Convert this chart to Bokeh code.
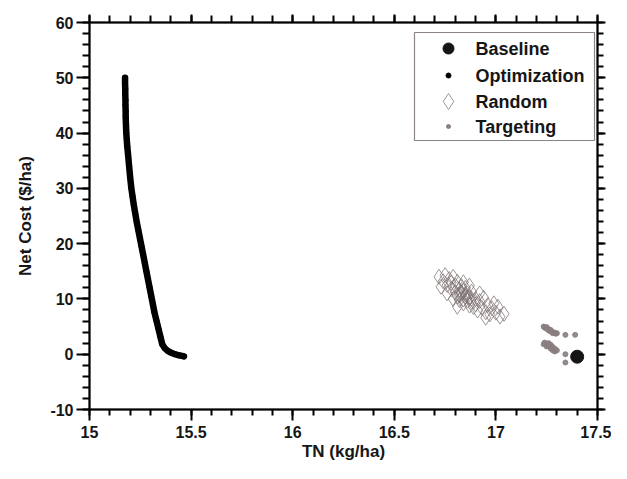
from bokeh.plotting import figure
from bokeh.models import LinearAxis, FixedTicker, Range1d
from bokeh.core.properties import value
from bokeh.embed import file_html
from bokeh.resources import INLINE

# ---------------- data ----------------
x_ticks = [15, 15.5, 16, 16.5, 17, 17.5]
x_tick_labels = ["15", "15.5", "16", "16.5", "17", "17.5"]
y_ticks = [-10, 0, 10, 20, 30, 40, 50, 60]
y_tick_labels = ["-10", "0", "10", "20", "30", "40", "50", "60"]

legend_labels = ["Baseline", "Optimization", "Random", "Targeting"]

baseline_tn = [17.40]
baseline_cost = [-0.45]

optimization_tn = [15.175, 15.175, 15.176, 15.176, 15.177, 15.177, 15.178, 15.178,
                   15.179, 15.180, 15.181, 15.183, 15.186, 15.190, 15.195, 15.200,
                   15.206, 15.212, 15.218, 15.225, 15.232, 15.240, 15.248, 15.256,
                   15.264, 15.272, 15.280, 15.288, 15.296, 15.304, 15.312, 15.320,
                   15.330, 15.340, 15.350, 15.358, 15.370, 15.385, 15.400, 15.420,
                   15.440, 15.455, 15.465]
optimization_cost = [50.0, 49.0, 48.0, 47.0, 46.0, 45.0, 44.0, 43.0,
                     42.0, 41.0, 40.0, 39.0, 37.5, 36.0, 34.0, 32.0,
                     30.0, 28.5, 27.0, 25.5, 24.0, 22.5, 21.0, 19.5,
                     18.0, 16.5, 15.0, 13.5, 12.0, 10.5, 9.0, 7.5,
                     6.0, 4.5, 3.0, 1.8, 1.1, 0.6, 0.3, 0.0,
                     -0.2, -0.3, -0.4]

random_tn = [16.72, 16.74, 16.75, 16.76, 16.77, 16.78, 16.78, 16.79, 16.80, 16.80,
             16.81, 16.81, 16.82, 16.82, 16.83, 16.83, 16.84, 16.84, 16.85, 16.85,
             16.86, 16.86, 16.87, 16.87, 16.88, 16.88, 16.89, 16.90, 16.90, 16.91,
             16.92, 16.93, 16.94, 16.95, 16.96, 16.97, 16.98, 17.00, 17.02, 17.04,
             16.76, 16.79, 16.73, 16.81, 16.84, 16.87, 16.92, 16.99, 16.95, 17.01,
             16.83, 16.85, 16.86, 16.88, 16.82, 16.84]
random_cost = [14.0, 13.2, 14.3, 12.5, 13.6, 11.8, 12.9, 14.0, 11.2, 12.4,
               13.1, 10.5, 11.7, 9.8, 12.3, 10.9, 11.5, 9.2, 10.4, 12.0,
               9.7, 11.0, 8.8, 10.2, 9.5, 11.3, 8.5, 10.0, 9.0, 7.9,
               9.6, 8.4, 10.2, 7.6, 8.9, 7.2, 8.3, 7.5, 6.8, 7.3,
               11.0, 10.0, 12.2, 8.6, 13.0, 12.4, 11.0, 9.2, 6.6, 8.6,
               11.2, 10.8, 10.4, 10.0, 10.6, 9.9]

targeting_tn = [17.235, 17.24, 17.25, 17.25, 17.26, 17.26, 17.27, 17.27, 17.28, 17.28,
                17.29, 17.295, 17.30,
                17.235, 17.24, 17.25, 17.25, 17.26, 17.26, 17.27, 17.27, 17.28, 17.28,
                17.29, 17.29, 17.30,
                17.342, 17.39, 17.342, 17.342]
targeting_cost = [5.0, 4.8, 4.9, 4.6, 4.5, 4.3, 4.4, 4.1, 4.0, 3.8,
                  3.9, 3.7, 3.8,
                  1.8, 2.1, 1.9, 1.4, 2.0, 1.5, 1.7, 1.0, 1.3, 0.7,
                  1.0, 0.5, 0.7,
                  3.5, 3.5, 0.0, -1.5]

FONT = "Liberation Sans"
TXT = "#161616"

FRAME_W, FRAME_H = 508, 387

p = figure(width=611, height=463, output_backend="svg", toolbar_location=None,
           x_range=Range1d(15, 17.5), y_range=Range1d(-10, 60),
           min_border_left=89, min_border_right=14, min_border_top=22,
           min_border_bottom=54)
p.grid.visible = False
p.outline_line_color = "black"
p.outline_line_width = 1.5
p.extra_x_ranges = {"px": Range1d(0, FRAME_W)}
p.extra_y_ranges = {"px": Range1d(0, FRAME_H)}

# ---------------- data glyphs ----------------
r_rand = p.scatter(random_tn, random_cost, marker="diamond", size=15,
                   fill_color=None, line_color="#7d7272", line_width=1, line_alpha=0.75)
r_targ = p.scatter(targeting_tn, targeting_cost, marker="circle", size=5,
                   fill_color="#8a7e7e", line_color="#8a7e7e", alpha=0.9)
r_opt_line = p.line(optimization_tn, optimization_cost, line_color="black",
                    line_width=6.5, line_cap="round", line_join="round")
r_opt = p.scatter(optimization_tn, optimization_cost, marker="circle", size=5,
                  fill_color="black", line_color="black")
r_base = p.scatter(baseline_tn, baseline_cost, marker="circle", size=13,
                   fill_color="#151515", line_color="#151515")

# ---------------- axes ----------------
def style_axis(ax, labels, ticks, minor, major_out, minor_out, show_labels=True):
    ax.ticker = FixedTicker(ticks=ticks, minor_ticks=minor)
    ax.axis_line_width = 2
    ax.axis_line_color = "black"
    ax.major_tick_line_color = "black"
    ax.minor_tick_line_color = "black"
    ax.major_tick_line_width = 2
    ax.minor_tick_line_width = 2
    ax.major_tick_in = 0
    ax.major_tick_out = major_out
    ax.minor_tick_in = 0
    ax.minor_tick_out = minor_out
    if show_labels:
        ax.major_label_overrides = {t: l for t, l in zip(ticks, labels)}
        ax.major_label_text_font = FONT
        ax.major_label_text_font_style = "bold"
        ax.major_label_text_font_size = "16px"
        ax.major_label_text_color = TXT
    else:
        ax.major_label_text_font_size = "0px"
        ax.major_label_text_alpha = 0
        ax.major_label_standoff = 0

x_minor = [round(15 + 0.1 * i, 2) for i in range(26)]
y_minor = [-10 + 2 * i for i in range(36)]

xa = p.xaxis[0]
style_axis(xa, x_tick_labels, x_ticks, x_minor, 11, 6)
xa.major_label_standoff = 5
xa.axis_label = "TN (kg/ha)"
xa.axis_label_standoff = 1

ya = p.yaxis[0]
style_axis(ya, y_tick_labels, y_ticks, y_minor, 13, 7)
ya.major_label_standoff = 3
ya.axis_label = "Net Cost ($/ha)"
ya.axis_label_standoff = 12

for ax in (xa, ya):
    ax.axis_label_text_font = FONT
    ax.axis_label_text_font_style = "bold"
    ax.axis_label_text_font_size = "17px"
    ax.axis_label_text_color = TXT

top = LinearAxis()
style_axis(top, x_tick_labels, x_ticks, x_minor, 8, 7, show_labels=False)
p.add_layout(top, "above")
right = LinearAxis()
style_axis(right, y_tick_labels, y_ticks, y_minor, 8, 6, show_labels=False)
p.add_layout(right, "right")

# ---------------- legend (drawn in frame-pixel coordinates) ----------------
lg_left, lg_right, lg_top, lg_bottom = 325, 505, 377, 269
row_y = [361, 334, 308, 283]
glyph_x = 359
text_x = 386

p.quad(left=[lg_left], right=[lg_right], top=[lg_top], bottom=[lg_bottom],
       fill_color="white", line_color="#8c8484", line_width=1.2,
       x_range_name="px", y_range_name="px")
p.scatter([glyph_x], [row_y[0]], marker="circle", size=11, fill_color="#151515",
          line_color="#151515", x_range_name="px", y_range_name="px")
p.scatter([glyph_x], [row_y[1]], marker="circle", size=5, fill_color="black",
          line_color="black", x_range_name="px", y_range_name="px")
p.scatter([glyph_x], [row_y[2]], marker="diamond", size=16, fill_color=None,
          line_color="#a09898", line_width=1, x_range_name="px", y_range_name="px")
p.scatter([glyph_x], [row_y[3]], marker="circle", size=4, fill_color="#8a7e7e",
          line_color="#8a7e7e", x_range_name="px", y_range_name="px")
p.text(x=[text_x] * 4, y=row_y, text=legend_labels,
       text_font=value(FONT), text_font_style="bold", text_font_size="18px",
       text_color=TXT, text_baseline="middle", text_align="left",
       x_range_name="px", y_range_name="px")

open("out.html", "w").write(file_html(p, INLINE))
